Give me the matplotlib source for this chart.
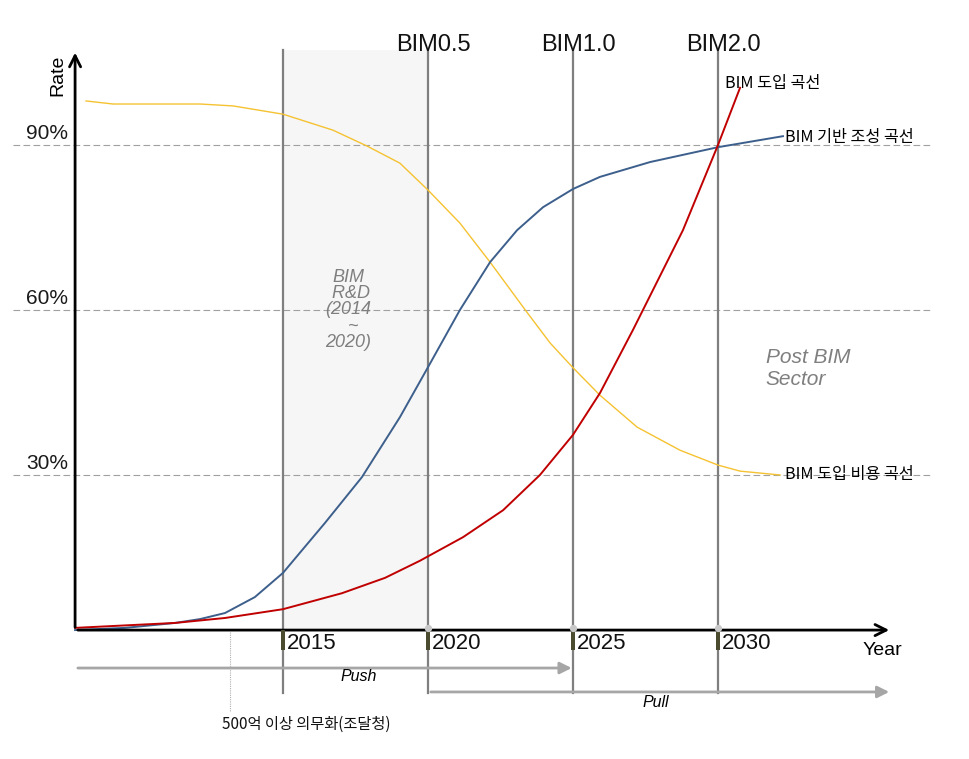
#!/usr/bin/env python3
"""BIM adoption roadmap: adoption, infrastructure and cost curves against year."""

import matplotlib

matplotlib.use("Agg")
import matplotlib.pyplot as plt
from matplotlib.patches import FancyArrowPatch, Rectangle

plt.rcParams["font.family"] = ["Liberation Sans", "Noto Sans CJK KR", "DejaVu Sans"]

KR = ["Noto Sans CJK KR", "DejaVu Sans"]

# curve values (year, rate %)
cost_years = [2008.21, 2009.14, 2012.14, 2013.28, 2015.0, 2016.72, 2017.90,
              2019.03, 2020.0, 2021.10, 2022.14, 2023.41, 2024.21, 2025.0,
              2025.93, 2027.21, 2028.69, 2030.0, 2030.76, 2032.14]
cost_rate = [98.0, 97.45, 97.45, 97.1, 95.6, 92.7, 89.8,
             86.7, 81.8, 75.8, 68.7, 59.6, 54.0, 49.5,
             44.5, 38.7, 34.5, 31.8, 30.7, 30.0]

base_years = [2007.83, 2009.55, 2011.28, 2012.14, 2013.0, 2014.03, 2015.0,
              2015.86, 2016.45, 2017.72, 2019.03, 2020.0, 2021.10, 2022.14,
              2023.07, 2023.97, 2025.0, 2025.93, 2027.66, 2030.0, 2032.24]
base_rate = [1.8, 2.2, 3.1, 3.8, 4.9, 7.8, 12.2,
             17.6, 21.3, 29.6, 40.5, 49.6, 60.0, 68.7,
             74.5, 78.7, 82.0, 84.2, 86.9, 89.6, 91.6]

adopt_years = [2007.83, 2011.28, 2013.0, 2015.0, 2017.03, 2018.52, 2019.72,
               2021.21, 2022.59, 2023.86, 2025.0, 2025.93, 2027.07, 2028.79,
               2030.0, 2030.76]
adopt_rate = [2.2, 3.1, 4.0, 5.6, 8.5, 11.3, 14.4,
              18.7, 23.6, 30.0, 37.3, 44.9, 56.4, 74.5,
              90.0, 100.4]

grid_levels = [30, 60, 90]
grid_labels = ["30%", "60%", "90%"]
milestone_years = [2015, 2020, 2025, 2030]
stage_years = [2020, 2025, 2030]
stage_labels = ["BIM0.5", "BIM1.0", "BIM2.0"]

X0, X1 = 2007.83, 2036.0
Y0, Y_TOP = 1.8, 107.3

fig = plt.figure(figsize=(9.69, 7.59), dpi=100)
ax = fig.add_axes([0, 0, 1, 1])
ax.set_xlim(2005.241, 2038.655)
ax.set_ylim(-21.64, 116.36)
ax.axis("off")

# R&D shaded band
ax.add_patch(Rectangle((2015, Y0), 5, Y_TOP - Y0, facecolor="#f6f6f6",
                       edgecolor="none", zorder=0))

# dashed grid lines and labels
for level, label in zip(grid_levels, grid_labels):
    ax.plot([2005.7, 2037.4], [level, level], color="#a0a0a0", lw=0.8,
            ls=(0, (6, 3)), zorder=1)
    ax.text(2007.6, level + 0.3, label, ha="right", va="bottom", fontsize=15,
            color="#1a1a1a")

# milestone vertical lines
for year in milestone_years:
    ax.plot([year, year], [-9.6, Y_TOP], color="#7f7f7f", lw=1.6, zorder=2)
for year, label in zip(stage_years, stage_labels):
    ax.text(year + 0.2, 107.1, label, ha="center", va="baseline",
            fontsize=17, color="#111111")

# curves
ax.plot(cost_years, cost_rate, color="#f5c231", lw=1.0, zorder=3)
ax.plot(base_years, base_rate, color="#3d5f8c", lw=1.4, zorder=3)
ax.plot(adopt_years, adopt_rate, color="#c00000", lw=1.4, zorder=3)

# axes with arrows
ax.add_patch(FancyArrowPatch((X0, Y0), (X0, Y_TOP), arrowstyle="->,head_length=8,head_width=4",
                             color="black", lw=2.0, zorder=4))
ax.add_patch(FancyArrowPatch((X0, Y0), (X1, Y0), arrowstyle="->,head_length=8,head_width=4",
                             color="black", lw=2.0, zorder=4))
ax.text(X0 - 0.6, 106.4, "Rate", rotation=90, ha="center", va="top", fontsize=14)
ax.text(X1 + 0.35, -0.4, "Year", ha="right", va="top", fontsize=14)

# year ticks
for year in milestone_years:
    ax.add_patch(Rectangle((year - 0.06, -1.8), 0.14, 3.6, facecolor="#4b4b2f",
                           edgecolor="none", zorder=5))
    ax.text(year + 0.14, -0.6, str(year), ha="left", va="center", fontsize=16,
            color="#111111")
ax.scatter(stage_years, [Y0 + 0.3] * len(stage_years), s=18, color="#c8c8c8",
           zorder=6)

# push / pull arrows
ax.add_patch(FancyArrowPatch((X0, -5.1), (2025.05, -5.1), arrowstyle="-|>,head_length=7,head_width=3.5",
                             color="#a6a6a6", lw=2.0, zorder=2))
ax.text(2017.6, -6.6, "Push", ha="center", va="center", fontsize=11.5,
        style="italic")
ax.add_patch(FancyArrowPatch((2020, -9.45), (2036.0, -9.45), arrowstyle="-|>,head_length=7,head_width=3.5",
                             color="#a6a6a6", lw=2.0, zorder=2))
ax.text(2027.85, -11.3, "Pull", ha="center", va="center", fontsize=11.5,
        style="italic")

# procurement mandate marker
ax.plot([2013.17, 2013.17], [1.4, -13.1], color="#b0b0b0", lw=0.8,
        ls=(0, (1, 1)), zorder=2)
ax.text(2012.9, -15.4, "500억 이상 의무화(조달청)", ha="left", va="center",
        fontsize=11, family=KR, color="#111111")

# curve labels
ax.text(2030.25, 101.2, "BIM 도입 곡선", ha="left", va="center", fontsize=11.7,
        family=KR)
ax.text(2032.3, 91.3, "BIM 기반 조성 곡선", ha="left", va="center", fontsize=11.7,
        family=KR)
ax.text(2032.3, 30.0, "BIM 도입 비용 곡선", ha="left", va="center", fontsize=11.7,
        family=KR)

# region notes
ax.text(2017.25, 67.5, "BIM\n R&D\n(2014\n  ~\n2020)", ha="center", va="top",
        fontsize=13, style="italic", color="#7f7f7f", linespacing=0.95)
ax.text(2031.65, 49.3, "Post BIM\nSector", ha="left", va="center", fontsize=15,
        style="italic", color="#7f7f7f", linespacing=1.2)

fig.savefig("out.png", dpi=100)
